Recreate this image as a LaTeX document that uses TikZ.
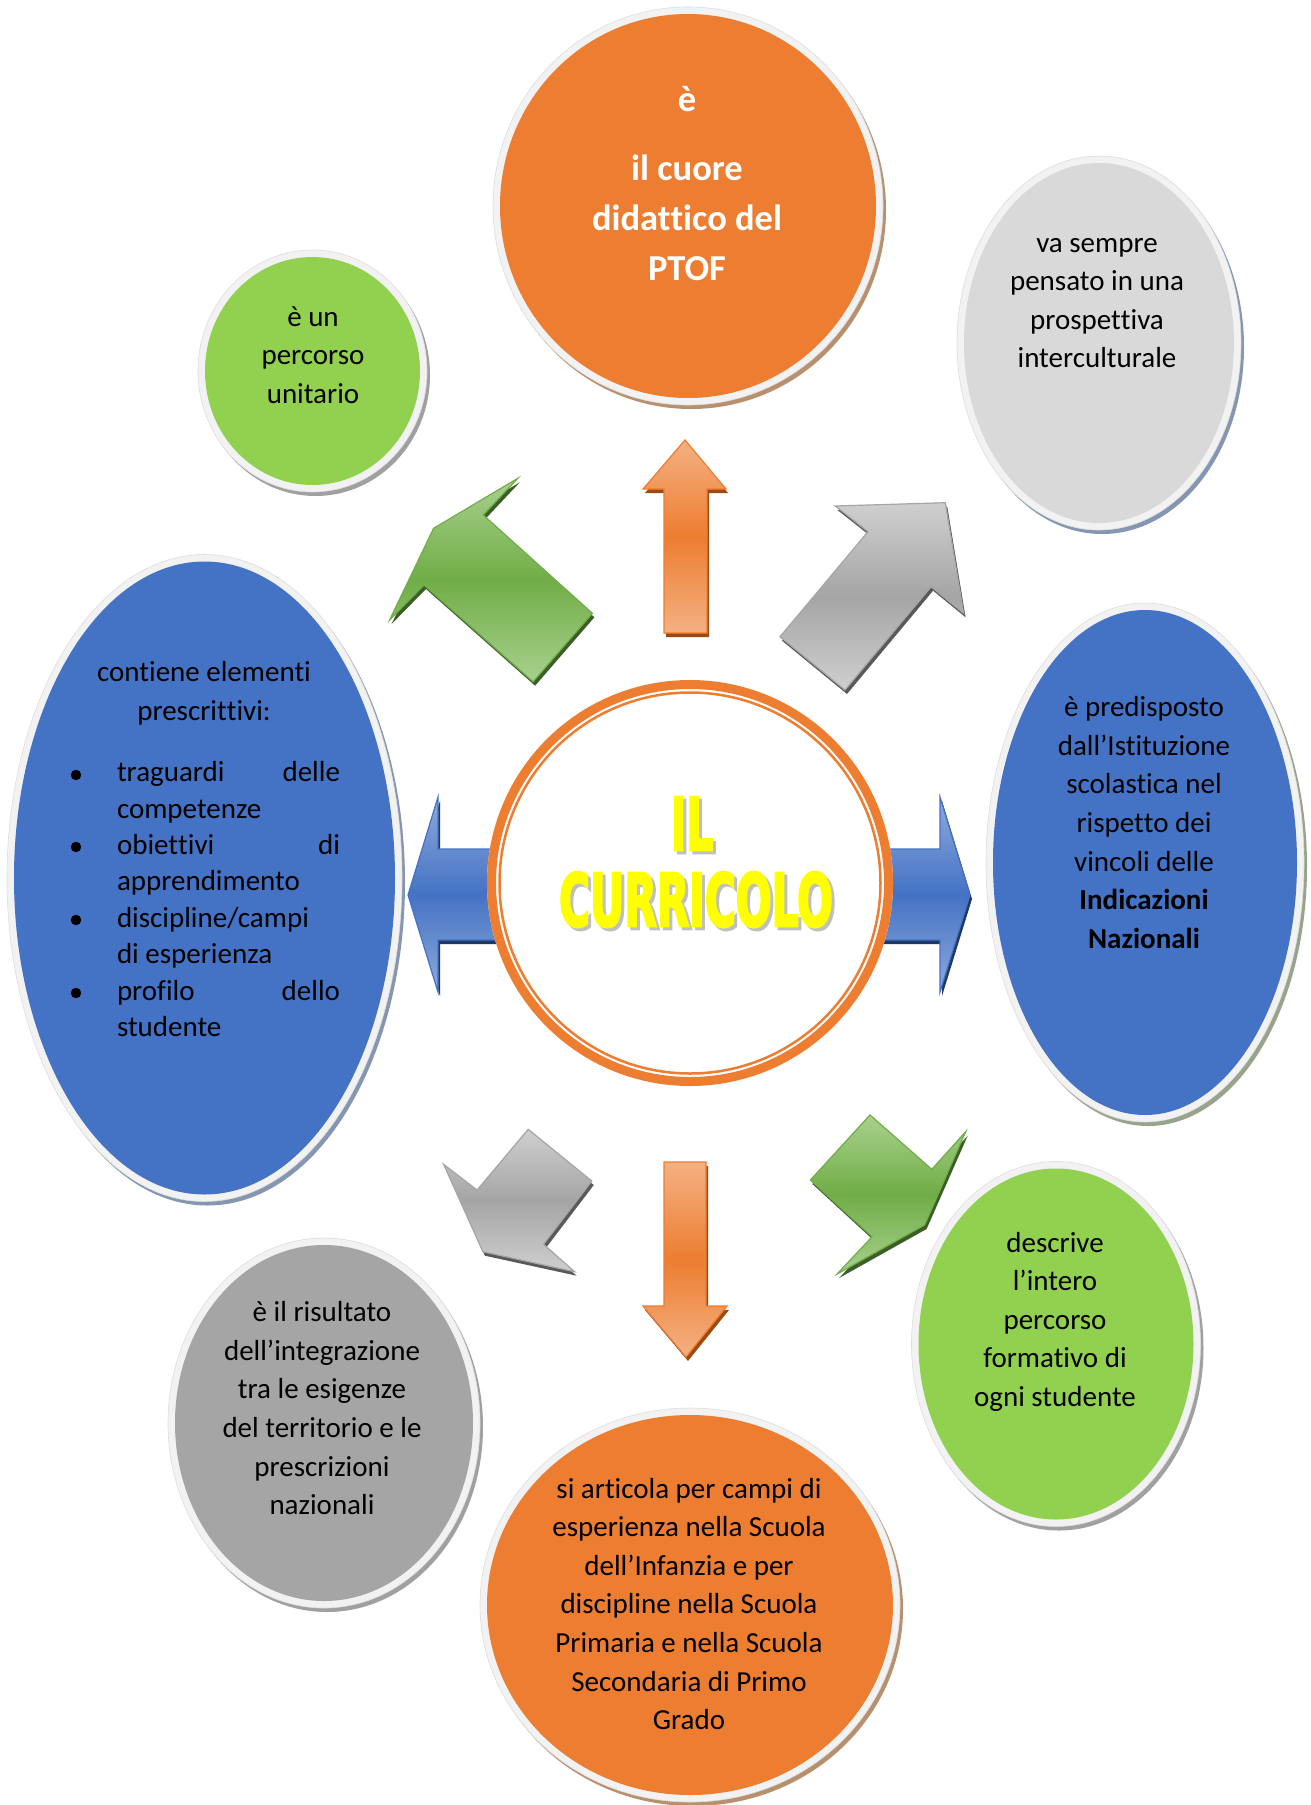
\documentclass[tikz,border=0pt]{standalone}
\usepackage{fontspec}
\usepackage{graphicx}
\setmainfont[Ligatures={NoCommon,NoRare,NoContextual},Contextuals={NoAlternate}]{Carlito}
\newfontfamily\titlefont[BoldFeatures={FakeBold=4}]{DejaVu Sans}
\usetikzlibrary{shapes.geometric}
\newcommand{\brk}{\kern0pt }
\definecolor{cOrange}{HTML}{ED7D31}
\definecolor{cGreen}{HTML}{92D050}
\definecolor{cBlue}{HTML}{4472C4}
\definecolor{cGreyL}{HTML}{D9D9D9}
\definecolor{cGreyD}{HTML}{A5A5A5}
\definecolor{cHalo}{HTML}{F2F2F2}
\definecolor{cHaloEdge}{HTML}{DDDDDD}
\definecolor{sOrange}{HTML}{B8906E}
\definecolor{sBlueGrey}{HTML}{8496B0}
\definecolor{sGreenGrey}{HTML}{97A38A}
\definecolor{sGrey}{HTML}{A0A0A0}
\definecolor{aoL}{HTML}{F4B183}
\definecolor{aoM}{HTML}{ED7D31}
\definecolor{aoS}{HTML}{9C4A12}
\definecolor{agL}{HTML}{A9D18E}
\definecolor{agM}{HTML}{70AD47}
\definecolor{agS}{HTML}{3B5E26}
\definecolor{arL}{HTML}{CFCFCF}
\definecolor{arM}{HTML}{A5A5A5}
\definecolor{arS}{HTML}{595959}
\definecolor{abL}{HTML}{8FAADC}
\definecolor{abM}{HTML}{4472C4}
\definecolor{abS}{HTML}{1F3864}
\definecolor{titleYellow}{HTML}{FFFF00}
\definecolor{titleShadow}{HTML}{BFBFBF}
\newcommand{\ctext}[1]{\begin{tabular}[t]{@{}c@{}}#1\end{tabular}}
\newcommand{\bubble}[6]{%
  \fill[#6] (#1+3,#2+4) ellipse [x radius=#3+7, y radius=#4+7];
  \filldraw[fill=cHalo, draw=cHaloEdge, line width=0.6] (#1,#2) ellipse [x radius=#3+7, y radius=#4+7];
  \fill[#5] (#1,#2) ellipse [x radius=#3, y radius=#4];}
\newcommand{\blockarrow}[4]{%
  \fill[#4, shift={(2,4)}] #1;
  \shade[top color=#2, bottom color=#2, middle color=#3, draw=#3, line width=1.2] #1;}
\tikzset{
  txt/.style={anchor=base, inner sep=0, outer sep=0, text=black, font=\fontsize{29}{38.6}\selectfont},
  whitebold/.style={anchor=base, inner sep=0, outer sep=0, text=white, font=\fontsize{36.5}{50}\selectfont\bfseries},
  bulletdot/.style={circle, fill=black, inner sep=0, minimum size=10.5},
  titletxt/.style={anchor=base, inner sep=0, outer sep=0, font=\titlefont\bfseries\fontsize{72.7}{80}\selectfont},
}
\begin{document}
\begin{tikzpicture}[x=1pt,y=-1pt]
\useasboundingbox (0,0) rectangle (1311,1805);
\fill[white] (0,0) rectangle (1311,1805);

% ---------- bubbles ----------
\bubble{688}{206}{188}{192}{cOrange}{sOrange}
\bubble{312.5}{371}{107.5}{114}{cGreen}{sGrey}
\bubble{1099}{343}{135}{180}{cGreyL}{sBlueGrey}
\bubble{204.5}{878}{190.5}{316.5}{cBlue}{sBlueGrey}
\bubble{1145}{862.5}{152}{252.5}{cBlue}{sGreenGrey}
\bubble{324}{1423}{149}{178}{cGreyD}{sGrey}
\bubble{1056}{1344}{137.5}{175.5}{cGreen}{sGrey}
\bubble{690}{1605}{203}{190}{cOrange}{sOrange}

% ---------- arrows ----------
% up (orange)
\blockarrow{(685,440) -- (726,489) -- (707,489) -- (707,633) -- (664,633) -- (664,489) -- (643,489) -- cycle}{aoL}{aoM}{aoS}
% down (orange)
\blockarrow{(664,1162) -- (706,1162) -- (706,1306) -- (727,1306) -- (686,1357) -- (643,1306) -- (664,1306) -- cycle}{aoL}{aoM}{aoS}
% left (blue)
\blockarrow{(408,895) -- (438,797) -- (438,849) -- (505,849) -- (505,940) -- (438,940) -- (438,992) -- cycle}{abL}{abM}{abS}
% right (blue)
\blockarrow{(970,895) -- (940,992) -- (940,940) -- (875,940) -- (875,849) -- (940,849) -- (940,797) -- cycle}{abL}{abM}{abS}
% up-left (green)
\blockarrow{(433.6,528.3) -- (389.6,620) -- (424,585) -- (533.1,681.7) -- (592.4,613.3) -- (483.3,515) -- (517.8,478.3) -- cycle}{agL}{agM}{agS}
% up-right (grey)
\blockarrow{(835.4,506) -- (945.3,502.7) -- (963.6,613.3) -- (931.1,586.7) -- (845,690) -- (780,636.7) -- (868,531.7) -- cycle}{arL}{arM}{arS}
% down-left (grey)
\blockarrow{(443.6,1164.3) -- (477.1,1190) -- (528.2,1129.3) -- (591.8,1181) -- (543.6,1244.3) -- (574.6,1271.7) -- (482.9,1251.7) -- cycle}{arL}{arM}{arS}
% down-right (green)
\blockarrow{(810.4,1180) -- (870,1115) -- (931.8,1169.3) -- (965.7,1131.7) -- (924.6,1225) -- (837.1,1274) -- (872.1,1236.7) -- cycle}{agL}{agM}{agS}

% ---------- centre circle ----------
\fill[white] (690,883) circle [radius=203];
\draw[cOrange, line width=9] (690,883) circle [radius=198.5];
\draw[cOrange, line width=2.5] (690,883) circle [radius=190.5];
\node[titletxt, text=titleShadow] (ilS) at (695,853) {\scalebox{0.58}[1]{IL}};
\node[titletxt, text=titleYellow] (il) at (692,850) {\scalebox{0.58}[1]{IL}};
\node[titletxt, text=titleShadow] (curS) at (699,929) {\scalebox{0.58}[1]{CURRICOLO}};
\node[titletxt, text=titleYellow] (cur) at (696,926) {\scalebox{0.58}[1]{CURRICOLO}};

% ---------- texts ----------
\node[whitebold] (t1a) at (687,111) {è};
\node[whitebold] (t1b) at (687,180) {\ctext{il cuore\\didat\brk t\brk ico del\\PTOF}};
\node[txt] (t2) at (313,326) {\ctext{è un\\percorso\\unitario}};
\node[txt] (t3) at (1097,252) {\ctext{va sempre\\pensato in una\\prospet\brk t\brk iva\\interculturale}};
\node[txt] (t4) at (1144,716.7) {\ctext{è predisposto\\dall’Ist\brk it\brk uzione\\scolast\brk ica nel\\rispet\brk to dei\\vincoli delle\\\textbf{Indicazioni}\\\textbf{Nazionali}}};
\node[txt] (t5) at (204,681.7) {\ctext{cont\brk iene element\brk i\\prescrit\brk t\brk ivi:}};
\node[txt, anchor=base west, font=\fontsize{29}{36.4}\selectfont] (t5list) at (117,781.7) {\begin{tabular}[t]{@{}l@{}}\makebox[223pt][s]{traguardi\hfill delle}\\competenze\\\makebox[223pt][s]{obiet\brk t\brk ivi\hfill di}\\apprendimento\\discipline/campi\\di esperienza\\\makebox[223pt][s]{profilo\hfill dello}\\studente\end{tabular}};
\node[bulletdot] (b1) at (76,775) {};
\node[bulletdot] (b2) at (76,847) {};
\node[bulletdot] (b3) at (76,920) {};
\node[bulletdot] (b4) at (76,993) {};
\node[txt] (t6) at (322,1321.7) {\ctext{è il risultato\\dell’integrazione\\tra le esigenze\\del territorio e le\\prescrizioni\\nazionali}};
\node[txt] (t7) at (1055,1252) {\ctext{descrive\\l’intero\\percorso\\format\brk ivo di\\ogni studente}};
\node[txt] (t8) at (689,1498) {\ctext{si art\brk icola per campi di\\esperienza nella Scuola\\dell’Infanzia e per\\discipline nella Scuola\\Primaria e nella Scuola\\Secondaria di Primo\\Grado}};
\end{tikzpicture}
\end{document}
